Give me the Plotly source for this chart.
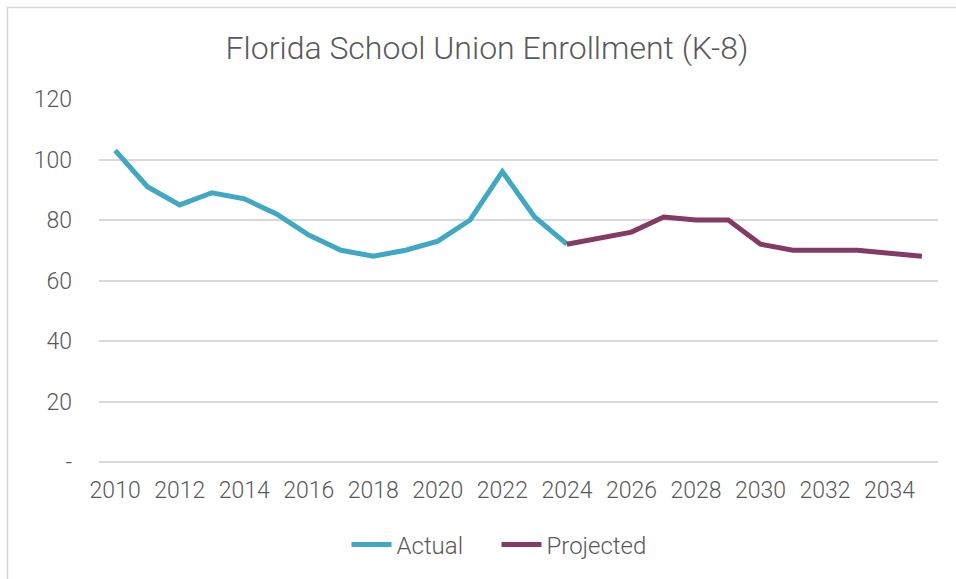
import plotly.graph_objects as go

actual_years = list(range(2010, 2025))
actual_values = [103, 91, 85, 89, 87, 82, 75, 70, 68, 70, 73, 80, 96, 81, 72]

projected_years = list(range(2024, 2036))
projected_values = [72, 74, 76, 81, 80, 80, 72, 70, 70, 70, 69, 68]

x_tick_vals = list(range(2010, 2035, 2))
y_tick_vals = [0, 20, 40, 60, 80, 100, 120]
y_tick_text = ["-", "20", "40", "60", "80", "100", "120"]

W, H = 956, 579
L, R, T, B = 99, 18, 99, 117
pw, ph = W - L - R, H - T - B

FONT = "Roboto"
GREY = "#595959"

fig = go.Figure()
fig.add_trace(go.Scatter(x=actual_years, y=actual_values, mode="lines", name="Actual",
                         line=dict(color="#41A8C3", width=5)))
fig.add_trace(go.Scatter(x=projected_years, y=projected_values, mode="lines", name="Projected",
                         line=dict(color="#833A63", width=5)))

def px_x(v):
    return (v - L) / pw

def px_y(v):
    return (H - B - v) / ph

fig.add_shape(type="rect", xref="paper", yref="paper",
              x0=px_x(7.5), x1=px_x(990), y0=px_y(7.5), y1=px_y(620),
              line=dict(color="#d9d9d9", width=1.5), fillcolor="rgba(0,0,0,0)", layer="below")

fig.update_layout(
    width=W, height=H,
    margin=dict(l=L, r=R, t=T, b=B),
    paper_bgcolor="white", plot_bgcolor="white",
    title=dict(text="Florida School Union Enrollment (K-8)", x=(226 + 748) / 2 / W, xanchor="center",
               y=1 - 48 / H, yanchor="middle",
               font=dict(family=FONT, size=32, color=GREY, weight=300)),
    legend=dict(orientation="h", x=px_x(496.5), xanchor="center", y=px_y(545), yanchor="middle",
                font=dict(family=FONT, size=24, color=GREY, weight=300), itemwidth=40,
                entrywidth=95, entrywidthmode="pixels",
                traceorder="normal"),
    font=dict(family=FONT, color=GREY),
)
fig.update_xaxes(range=[2009.5, 2035.5], tickvals=x_tick_vals, showgrid=False, zeroline=False,
                 showline=False, ticks="", ticklabelstandoff=12,
                 tickfont=dict(family=FONT, size=23, color=GREY, weight=300))
fig.update_yaxes(range=[0, 120], tickvals=y_tick_vals, ticktext=y_tick_text, showgrid=True,
                 gridcolor="#d9d9d9", gridwidth=1.5, zeroline=True, zerolinecolor="#d9d9d9",
                 zerolinewidth=1.5, showline=False, ticks="", ticklabelstandoff=26,
                 tickfont=dict(family=FONT, size=23, color=GREY, weight=300))

fig.write_html("out.html", post_script="document.body.style.margin='0';",
               config={"displayModeBar": False})
